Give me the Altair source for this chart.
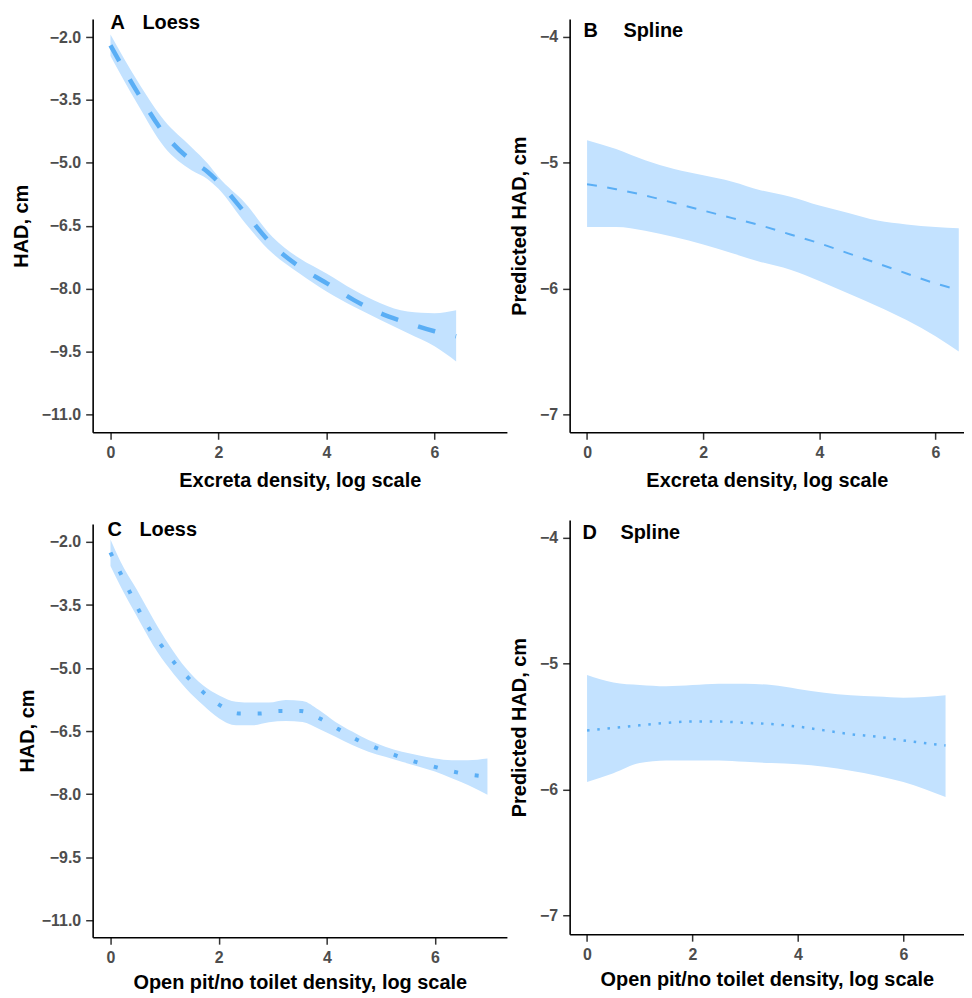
import altair as alt
import pandas as pd

# ---------------- Panel A (Loess, excreta density) ----------------
a_x = [0, 0.5, 1.0, 1.5, 1.8, 2.0, 2.5, 3.0, 3.5, 4.0, 4.5, 5.0, 5.5, 6.0, 6.4]
a_fit = [-2.2, -3.32, -4.31, -4.95, -5.22, -5.46, -6.21, -6.96, -7.48, -7.87, -8.27, -8.59, -8.82, -9.02, -9.14]
a_upper = [-1.94, -3.05, -4.0, -4.63, -5.02, -5.34, -5.97, -6.77, -7.28, -7.64, -8.03, -8.35, -8.55, -8.59, -8.52]
a_lower = [-2.45, -3.60, -4.63, -5.18, -5.39, -5.62, -6.45, -7.16, -7.64, -8.07, -8.43, -8.75, -9.06, -9.38, -9.74]

# ---------------- Panel B (Spline, excreta density) ----------------
b_x = [0, 0.5, 1, 1.5, 2, 2.5, 3, 3.5, 4, 4.5, 5, 5.5, 6, 6.4]
b_fit = [-5.17, -5.21, -5.26, -5.32, -5.38, -5.44, -5.50, -5.57, -5.64, -5.72, -5.80, -5.88, -5.96, -6.01]
b_upper = [-4.82, -4.89, -4.98, -5.05, -5.10, -5.15, -5.22, -5.27, -5.34, -5.40, -5.46, -5.49, -5.51, -5.52]
b_lower = [-5.51, -5.51, -5.54, -5.59, -5.65, -5.72, -5.79, -5.85, -5.94, -6.04, -6.14, -6.25, -6.38, -6.50]

# ---------------- Panel C (Loess, open pit density) ----------------
c_line_x = [0, 0.18, 0.36, 0.54, 0.72, 0.94, 1.18, 1.45, 1.72, 2.02, 2.37, 2.75, 3.13, 3.52, 3.87,
            4.21, 4.54, 4.90, 5.26, 5.61, 5.97, 6.33, 6.67, 6.97]
c_fit = [-2.25, -2.73, -3.2, -3.66, -4.07, -4.46, -4.87, -5.25, -5.58, -5.88, -6.08, -6.08, -6.02, -6.02, -6.20,
         -6.45, -6.69, -6.89, -7.07, -7.22, -7.34, -7.46, -7.54, -7.58]
c_band_x = [0, 0.18, 0.48, 0.79, 1.09, 1.40, 1.71, 2.01, 2.32, 2.63, 2.93, 3.24, 3.55, 3.85, 4.16,
            4.47, 4.77, 5.08, 5.39, 5.69, 6.0, 6.31, 6.61, 6.97]
c_upper = [-1.94, -2.45, -3.12, -3.83, -4.46, -5.01, -5.41, -5.65, -5.80, -5.82, -5.82, -5.76, -5.78, -5.99, -6.28,
           -6.51, -6.71, -6.87, -6.99, -7.07, -7.15, -7.19, -7.19, -7.15]
c_lower = [-2.57, -3.04, -3.75, -4.46, -5.01, -5.49, -5.88, -6.20, -6.36, -6.36, -6.29, -6.26, -6.28, -6.44, -6.63,
           -6.83, -6.99, -7.11, -7.23, -7.34, -7.46, -7.62, -7.78, -8.01]

# ---------------- Panel D (Spline, open pit density) ----------------
d_x = [0, 0.5, 1, 1.5, 2, 2.5, 3, 3.5, 4, 4.5, 5, 5.5, 6, 6.8]
d_fit = [-5.53, -5.51, -5.49, -5.47, -5.46, -5.46, -5.47, -5.48, -5.50, -5.53, -5.56, -5.58, -5.61, -5.65]
d_upper = [-5.09, -5.15, -5.17, -5.18, -5.17, -5.16, -5.16, -5.17, -5.20, -5.23, -5.25, -5.26, -5.27, -5.25]
d_lower = [-5.94, -5.87, -5.79, -5.77, -5.77, -5.77, -5.78, -5.79, -5.80, -5.82, -5.85, -5.89, -5.94, -6.06]

# axis tick values / titles
x_ticks = [0, 2, 4, 6]
loess_y_ticks = [-2.0, -3.5, -5.0, -6.5, -8.0, -9.5, -11.0]
spline_y_ticks = [-4, -5, -6, -7]
x_title_top = "Excreta density, log scale"
x_title_bottom = "Open pit/no toilet density, log scale"
y_title_loess = "HAD, cm"
y_title_spline = "Predicted HAD, cm"

LINE_COLOR = "#5AAEF5"
BAND_COLOR = "#C3E2FF"
FONT = "Liberation Sans"


def panel(band_x, upper, lower, line_x, fit, xdom, ydom, yticks, yfmt, xtitle, ytitle,
          dash, sw, cap, letter, label, letter_pos, label_pos, width, height, ytitlepad, xtitlepad):
    band_df = pd.DataFrame({"x": band_x, "upper": upper, "lower": lower})
    line_df = pd.DataFrame({"x": line_x, "fit": fit})
    xs = alt.Scale(domain=xdom, nice=False, zero=False)
    ys = alt.Scale(domain=ydom, nice=False, zero=False)
    xax = alt.Axis(values=x_ticks, format="d", title=xtitle, titlePadding=xtitlepad)
    yax = alt.Axis(values=yticks, format=yfmt, title=ytitle, titlePadding=ytitlepad)
    band = alt.Chart(band_df).mark_area(color=BAND_COLOR, opacity=1, interpolate="monotone").encode(
        x=alt.X("x:Q", scale=xs, axis=xax),
        y=alt.Y("upper:Q", scale=ys, axis=yax),
        y2="lower:Q",
    )
    line = alt.Chart(line_df).mark_line(color=LINE_COLOR, strokeWidth=sw, strokeDash=dash,
                                        strokeCap=cap, interpolate="monotone").encode(
        x=alt.X("x:Q", scale=xs),
        y=alt.Y("fit:Q", scale=ys),
    )
    tag_df = pd.DataFrame({"letter": [letter], "label": [label]})
    t1 = alt.Chart(tag_df).mark_text(font=FONT, fontSize=20, fontWeight="bold", color="black",
                                     align="left", baseline="alphabetic").encode(
        x=alt.value(letter_pos[0]), y=alt.value(letter_pos[1]), text="letter:N")
    t2 = alt.Chart(tag_df).mark_text(font=FONT, fontSize=20, fontWeight="bold", color="black",
                                     align="left", baseline="alphabetic").encode(
        x=alt.value(label_pos[0]), y=alt.value(label_pos[1]), text="label:N")
    return alt.layer(band, line, t1, t2).properties(width=width, height=height)


pA = panel(a_x, a_upper, a_lower, a_x, a_fit, [-0.33, 7.34], [-11.43, -1.57], loess_y_ticks, ".1f",
           x_title_top, y_title_loess, [18, 21], 4.5, "butt", "A", "Loess", (18, 10), (50, 10), 416, 415, 10, 10)
pB = panel(b_x, b_upper, b_lower, b_x, b_fit, [-0.30, 6.49], [-7.143, -3.857], spline_y_ticks, "d",
           x_title_top, y_title_spline, [10, 10.5], 2, "butt", "B", "Spline", (14, 18), (54, 18), 396, 415, 10, 10)
pC = panel(c_band_x, c_upper, c_lower, c_line_x, c_fit, [-0.33, 7.33], [-11.40, -1.57], loess_y_ticks, ".1f",
           x_title_bottom, y_title_loess, [4, 17], 4, "butt", "C", "Loess", (15, 12), (47, 12), 416, 415, 4, 8)
pD = panel(d_x, d_upper, d_lower, d_x, d_fit, [-0.33, 7.15], [-7.15, -3.857], spline_y_ticks, "d",
           x_title_bottom, y_title_spline, [2.5, 7.8], 2.5, "butt", "D", "Spline", (13, 19), (51, 19), 396, 416, 10, 8)

chart = alt.ConcatChart(
    concat=[pA, pB, pC, pD],
    columns=2,
    align="none",
    spacing=alt.RowColnumber(row=30, column=2),
).properties(
    padding={"left": 3, "top": 3, "right": 0, "bottom": 0}
).configure_view(stroke=None).configure_axis(
    grid=False,
    domainColor="black",
    domainWidth=1.6,
    tickColor="#333333",
    tickWidth=1.5,
    tickSize=7,
    labelFont=FONT,
    labelFontSize=16,
    labelFontWeight="bold",
    labelColor="#4D4D4D",
    labelPadding=5,
    titleFont=FONT,
    titleFontSize=20,
    titleFontWeight="bold",
    titleColor="black",
)

chart.save("out.html", embed_options={"renderer": "svg", "actions": False})
